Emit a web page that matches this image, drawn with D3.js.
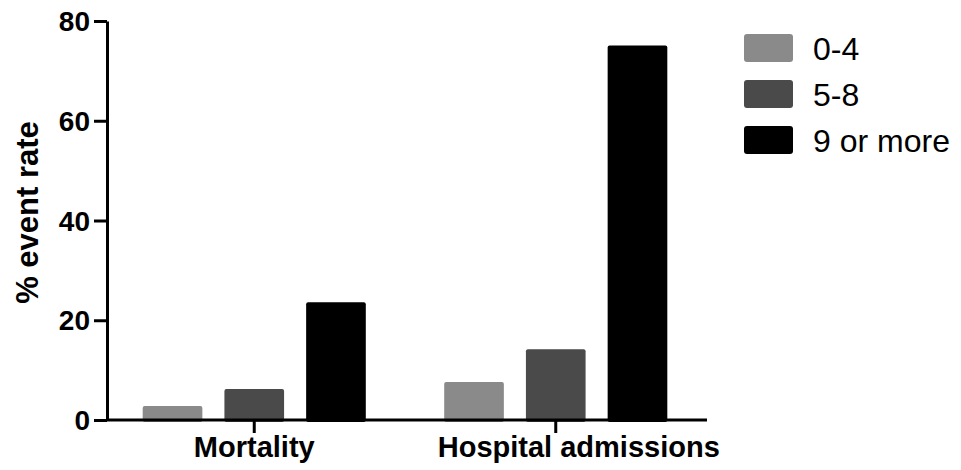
<!DOCTYPE html>
<html>
<head>
<meta charset="utf-8">
<script src="https://cdn.jsdelivr.net/npm/d3@7"></script>
<style>
  html, body { margin: 0; padding: 0; background: #fff; }
  svg { display: block; font-family: "Liberation Sans", Arial, Helvetica, sans-serif; }
</style>
</head>
<body>
<svg id="chart" width="961" height="470"></svg>
<script>
const categories = ["Mortality", "Hospital admissions"];
const seriesNames = ["0-4", "5-8", "9 or more"];
const seriesColors = ["#8a8a8a", "#4a4a4a", "#000000"];
const values_0_4 = [2.8, 7.6];
const values_5_8 = [6.2, 14.2];
const values_9_more = [23.6, 75.1];
const yTicks = [0, 20, 40, 60, 80];
const yTitle = "% event rate";

const seriesValues = [values_0_4, values_5_8, values_9_more];

const svg = d3.select("#chart");
const mLeft = 107, mRight = 707, mTop = 21, mBottom = 420;

const y = d3.scaleLinear().domain([0, 80]).range([mBottom, mTop]);
const x0 = d3.scaleBand().domain(categories).range([mLeft, mRight])
  .paddingInner(0.26).paddingOuter(0.125);
const x1 = d3.scaleBand().domain(seriesNames).range([0, x0.bandwidth()])
  .paddingInner(0.27).paddingOuter(0);
const color = d3.scaleOrdinal().domain(seriesNames).range(seriesColors);

// bars
const groups = svg.append("g").selectAll("g")
  .data(categories)
  .join("g")
  .attr("transform", d => `translate(${x0(d) - 2},0)`);

groups.selectAll("rect")
  .data((c, ci) => seriesNames.map((s, si) => ({ s, v: seriesValues[si][ci] })))
  .join("rect")
  .attr("x", d => x1(d.s))
  .attr("y", d => y(d.v))
  .attr("width", x1.bandwidth())
  .attr("height", d => y(0) - y(d.v) + 2)
  .attr("rx", 2)
  .attr("fill", d => color(d.s));

// y axis
const yAxis = svg.append("g")
  .attr("transform", `translate(${mLeft},0)`)
  .call(d3.axisLeft(y).tickValues(yTicks).tickSize(13).tickPadding(4).tickSizeOuter(0));
yAxis.select(".domain").attr("stroke", "#000").attr("stroke-width", 3);
yAxis.selectAll(".tick line").attr("stroke", "#000").attr("stroke-width", 3);
yAxis.selectAll(".tick text")
  .attr("fill", "#000")
  .attr("font-size", 28)
  .attr("font-weight", "bold")
  .attr("font-family", "'Liberation Sans', Arial, sans-serif")
  .attr("dy", "0.34em");

// x axis
const xAxis = svg.append("g")
  .attr("transform", `translate(0,${mBottom})`)
  .call(d3.axisBottom(x0).tickSize(13).tickSizeOuter(0).tickPadding(6));
xAxis.select(".domain").attr("stroke", "#000").attr("stroke-width", 3)
  .attr("d", `M${mLeft},0H${mRight}`);
xAxis.selectAll(".tick").attr("transform", d => `translate(${x0(d) + x0.bandwidth() / 2 - 2},0)`);
xAxis.selectAll(".tick line").attr("stroke", "#000").attr("stroke-width", 3);
xAxis.selectAll(".tick text")
  .attr("fill", "#000")
  .attr("font-size", 29)
  .attr("font-weight", "bold")
  .attr("font-family", "'Liberation Sans', Arial, sans-serif")
  .attr("dy", "0.62em")
  .attr("dx", (d, i) => i === categories.length - 1 ? 23 : 0);

// y title
svg.append("text")
  .attr("transform", `translate(38,${(mTop + mBottom) / 2 - 8}) rotate(-90)`)
  .attr("text-anchor", "middle")
  .attr("font-size", 31)
  .attr("font-weight", "bold")
  .attr("fill", "#000")
  .text(yTitle);

// legend
const legend = svg.append("g").attr("transform", "translate(744,34)");
const li = legend.selectAll("g")
  .data(seriesNames)
  .join("g")
  .attr("transform", (d, i) => `translate(0,${i * 46})`);
li.append("rect")
  .attr("width", 49).attr("height", 28).attr("rx", 3)
  .attr("fill", d => color(d));
li.append("text")
  .attr("x", 69).attr("y", 14)
  .attr("dy", "0.36em")
  .attr("font-size", 32)
  .attr("fill", "#000")
  .text(d => d);
</script>
</body>
</html>
